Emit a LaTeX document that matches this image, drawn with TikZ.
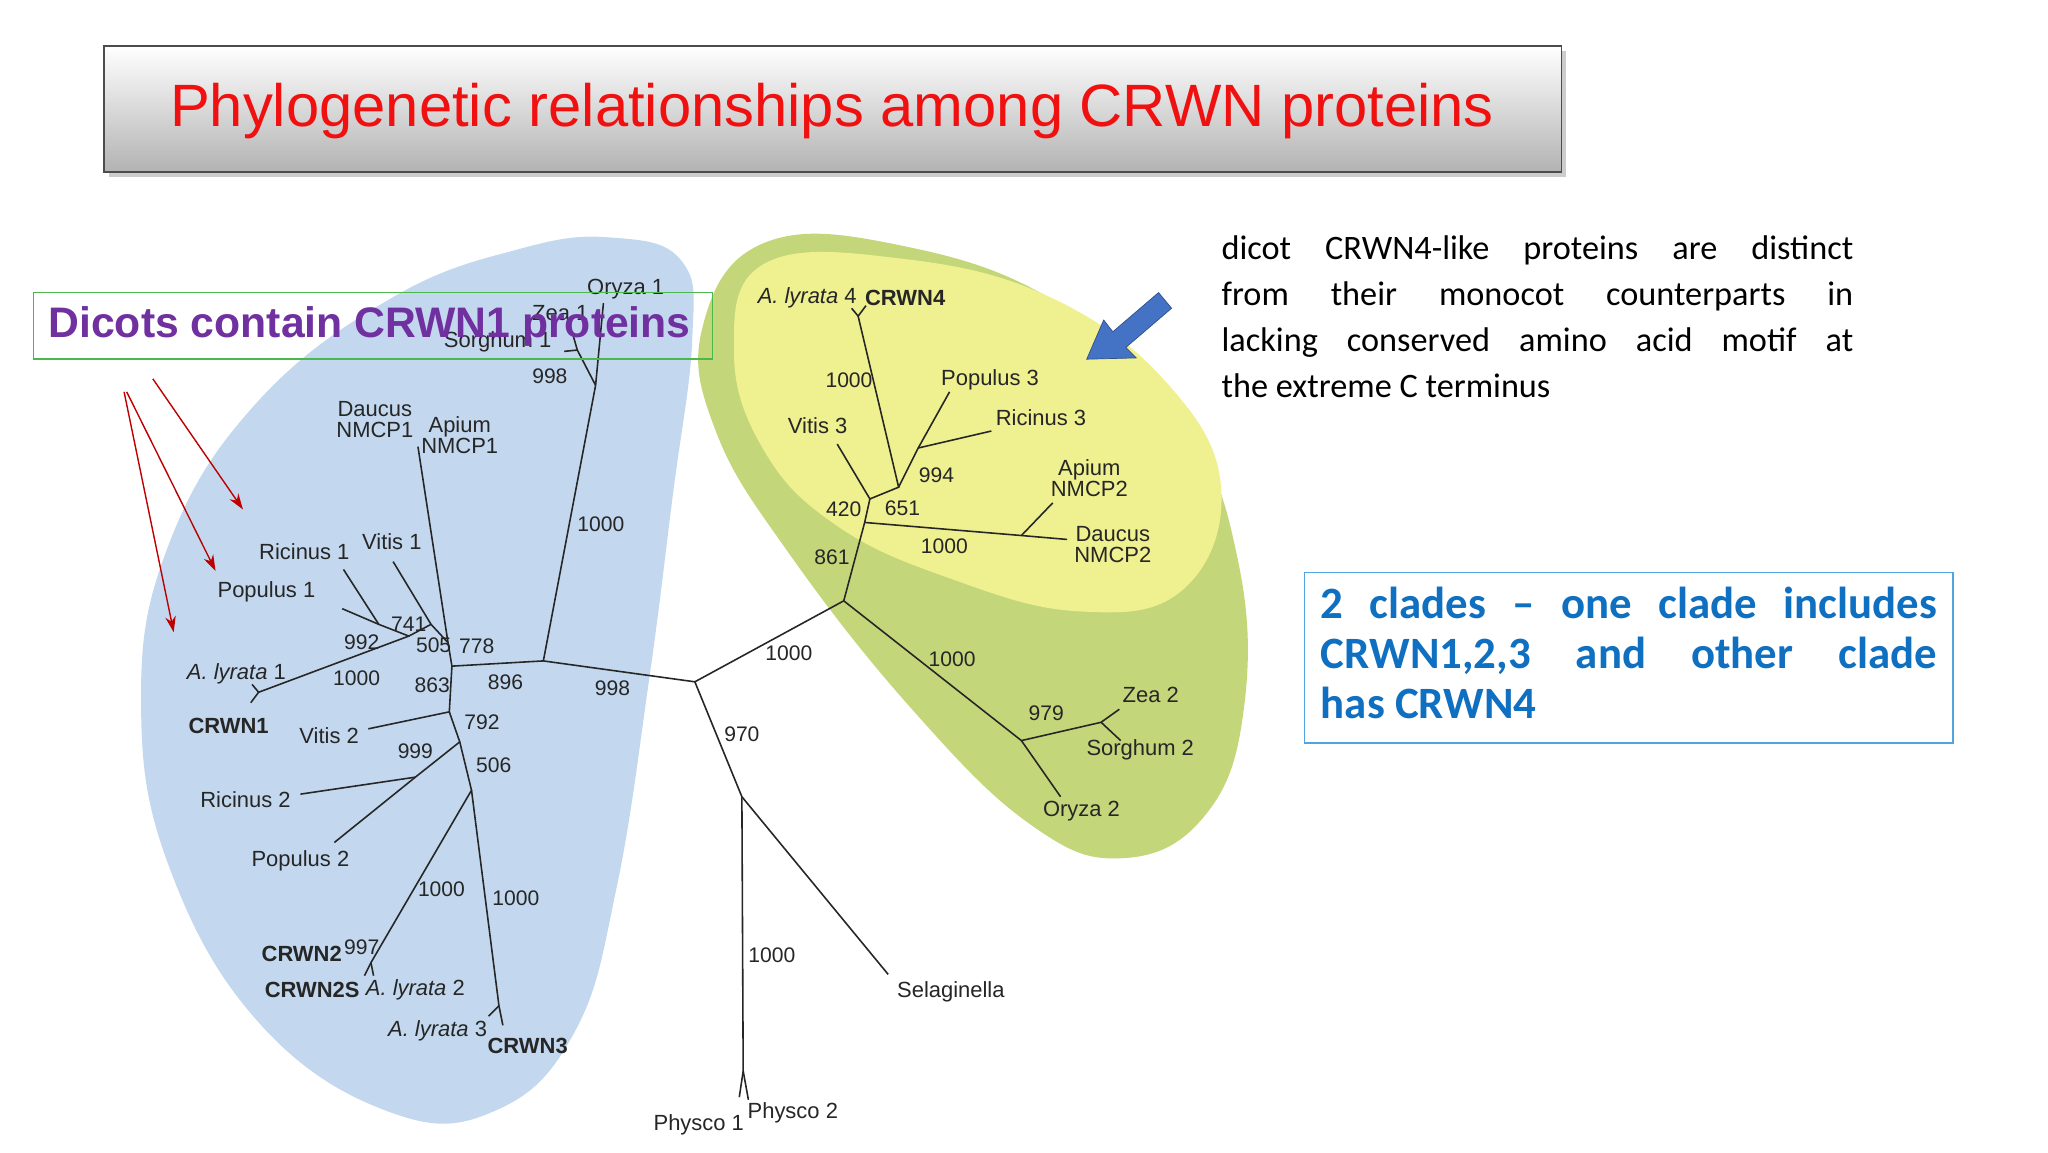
\documentclass[tikz,border=0pt]{standalone}
\usepackage{fontspec}
\setmainfont{Liberation Sans}
\newfontfamily\calfont{Carlito}
\usetikzlibrary{shadows,arrows.meta}
\definecolor{blob}{HTML}{C3D8EE}
\definecolor{grn}{HTML}{C3D77A}
\definecolor{yel}{HTML}{EFF08F}
\definecolor{ttl}{HTML}{F01010}
\definecolor{purp}{HTML}{7030A0}
\definecolor{cblue}{HTML}{0F6FC0}
\definecolor{arrb}{HTML}{4472C4}
\tikzset{
 br/.style={line width=0.9pt,black!85},
 lb/.style={font=\fontsize{12.5}{13}\selectfont,text=black!85,inner sep=0pt},
 bs/.style={font=\fontsize{12}{13}\selectfont,text=black!85,inner sep=0pt},
 bd/.style={lb,font=\fontsize{12.5}{13}\selectfont\bfseries},
 ra/.style={draw=red!75!black,line width=0.8pt,-{Stealth[length=9pt,width=6pt]}}
}
\begin{document}
\begin{tikzpicture}[x=0.026122cm,y=-0.026122cm]
\useasboundingbox (0,0) rectangle (1568,882);
\fill[white] (0,0) rectangle (1568,882);
% blobs
\fill[blob] plot[smooth cycle,tension=0.7] coordinates{(470,182)(522,200)(530,260)(515,380)(497,520)(472,680)(440,790)(380,850)(300,852)(200,785)(130,665)(108,540)(128,420)(195,310)(300,228)(400,190)};
\fill[grn] plot[smooth cycle,tension=0.7] coordinates{(585,186)(690,188)(810,232)(905,320)(948,430)(952,545)(922,625)(860,657)(790,632)(700,545)(605,425)(548,330)(538,250)};
\fill[yel] plot[smooth cycle,tension=0.7] coordinates{(585,202)(690,198)(805,228)(895,295)(935,375)(905,452)(825,468)(725,442)(640,402)(585,345)(562,270)};
% title
\node[draw=black!70,line width=1pt,top color=white,bottom color=black!30,drop shadow={opacity=0.4},minimum width=1119*0.7412pt,minimum height=97*0.7412pt,inner sep=0pt] (title) at (637.5,83.5) {};
\node[text=ttl,font=\fontsize{34}{36}\selectfont] (tt) at (637,85) {Phylogenetic relationships among CRWN proteins};
% tree coordinates
\coordinate (R) at (532,522); \coordinate (Q) at (416,506); \coordinate (P) at (456,295);
\coordinate (o1) at (462,232); \coordinate (zs) at (442,268); \coordinate (z1) at (438,254); \coordinate (s1) at (432,269);
\coordinate (B) at (346,510); \coordinate (C) at (343,492); \coordinate (dn) at (320,342);
\coordinate (D) at (330,478); \coordinate (v1) at (301,430);
\coordinate (F) at (313,487); \coordinate (E) at (290,478); \coordinate (r1) at (263,436); \coordinate (p1) at (262,466);
\coordinate (G) at (198,530); \coordinate (a1) at (193,524); \coordinate (c1) at (192,538);
\coordinate (H) at (344,545); \coordinate (v2) at (282,558);
\coordinate (I) at (352,568); \coordinate (K) at (318,595); \coordinate (r2) at (230,608); \coordinate (p2) at (256,645);
\coordinate (J) at (361,605); \coordinate (N2) at (284,737); \coordinate (c2) at (279,747); \coordinate (a2) at (286,747);
\coordinate (N3) at (382,770); \coordinate (a3) at (374,778); \coordinate (c3) at (385,785);
\coordinate (S) at (568,610); \coordinate (PH) at (569,820); \coordinate (ph1) at (566,840); \coordinate (ph2) at (573,842); \coordinate (sel) at (680,746);
\coordinate (T) at (646,460); \coordinate (U) at (662,400); \coordinate (V) at (666,382); \coordinate (v3) at (641,340);
\coordinate (W) at (688,373); \coordinate (c4n) at (657,242); \coordinate (a4) at (652,236); \coordinate (c4) at (663,234);
\coordinate (X) at (703,343); \coordinate (p3) at (727,300); \coordinate (r3) at (759,330);
\coordinate (Y) at (782,410); \coordinate (ap2) at (806,385); \coordinate (dc2) at (817,413);
\coordinate (Z) at (782,567); \coordinate (Z2) at (843,553); \coordinate (z2) at (857,543); \coordinate (s2) at (858,567); \coordinate (o2) at (812,610);
% branches
\draw[br] (R)--(Q)--(P)--(o1); \draw[br] (P)--(zs)--(z1); \draw[br] (zs)--(s1);
\draw[br] (Q)--(B)--(C)--(dn); \draw[br] (C)--(D)--(v1); \draw[br] (D)--(F)--(E)--(r1); \draw[br] (E)--(p1);
\draw[br] (F)--(G)--(a1); \draw[br] (G)--(c1);
\draw[br] (B)--(H)--(v2); \draw[br] (H)--(I)--(K)--(r2); \draw[br] (K)--(p2);
\draw[br] (I)--(J)--(N2)--(c2); \draw[br] (N2)--(a2);
\draw[br] (J)--(N3)--(a3); \draw[br] (N3)--(c3);
\draw[br] (R)--(S)--(PH)--(ph1); \draw[br] (PH)--(ph2); \draw[br] (S)--(sel);
\draw[br] (R)--(T)--(U)--(V)--(v3); \draw[br] (V)--(W)--(c4n)--(a4); \draw[br] (c4n)--(c4);
\draw[br] (W)--(X)--(p3); \draw[br] (X)--(r3);
\draw[br] (U)--(Y)--(dc2); \draw[br] (Y)--(ap2);
\draw[br] (T)--(Z)--(Z2)--(z2); \draw[br] (Z2)--(s2); \draw[br] (Z)--(o2);
% leaf labels
\node[lb] (l1) at (479,221) {Oryza 1};
\node[lb] (l2) at (429,240) {Zea 1};
\node[lb] (l3) at (381,262) {Sorghum 1};
\node[lb,align=center] (l4) at (287,321) {Daucus\\[-1pt]NMCP1};
\node[lb,align=center] (l5) at (352,333) {Apium\\[-1pt]NMCP1};
\node[lb] (l6) at (300,415) {Vitis 1};
\node[lb] (l7) at (233,422) {Ricinus 1};
\node[lb] (l8) at (204,453) {Populus 1};
\node[lb] (l9) at (181,516) {\itshape A. lyrata\upshape{} 1};
\node[bd] (l10) at (175,556) {CRWN1};
\node[lb] (l11) at (252,563) {Vitis 2};
\node[lb] (l12) at (188,612) {Ricinus 2};
\node[lb] (l13) at (230,659) {Populus 2};
\node[bd] (l14) at (231,730) {CRWN2};
\node[bd] (l15) at (239,758) {CRWN2S};
\node[lb] (l16) at (318,758) {\itshape A. lyrata\upshape{} 2};
\node[lb] (l17) at (335,789) {\itshape A. lyrata\upshape{} 3};
\node[bd] (l18) at (404,801) {CRWN3};
\node[lb] (l19) at (535,861) {Physco 1};
\node[lb] (l20) at (607,852) {Physco 2};
\node[lb] (l21) at (728,759) {Selaginella};
\node[lb] (l22) at (828,621) {Oryza 2};
\node[lb] (l23) at (873,574) {Sorghum 2};
\node[lb] (l24) at (881,532) {Zea 2};
\node[lb,align=center] (l25) at (852,417) {Daucus\\[-1pt]NMCP2};
\node[lb,align=center] (l26) at (834,366) {Apium\\[-1pt]NMCP2};
\node[lb] (l27) at (797,320) {Ricinus 3};
\node[lb] (l28) at (758,291) {Populus 3};
\node[lb] (l29) at (626,326) {Vitis 3};
\node[lb] (l30) at (618,228) {\itshape A. lyrata\upshape{} 4};
\node[bd] (l31) at (693,228) {CRWN4};
% bootstrap labels
\foreach \p/\t in {{421,288}/998,{460,401}/1000,{469,527}/998,{387,522}/896,{365,495}/778,{313,478}/741,{277,492}/992,{332,494}/505,{273,519}/1000,{331,525}/863,{369,553}/792,{318,575}/999,{378,586}/506,{338,681}/1000,{395,688}/1000,{277,725}/997,{568,562}/970,{591,731}/1000,{604,500}/1000,{637,427}/861,{646,390}/420,{691,389}/651,{717,364}/994,{650,291}/1000,{723,418}/1000,{729,505}/1000,{801,546}/979}
 \node[bs] at (\p) {\t};
% dicots box
\node[draw=green!60!black!70,line width=0.8pt,minimum width=521*0.7412pt,minimum height=51*0.7412pt] (dbox) at (285.5,249.5) {};
\node[text=purp,font=\fontsize{24.3}{26}\selectfont\bfseries] (dtext) at (283,250) {Dicots contain CRWN1 proteins};
\coordinate (rs1) at (95,300); \coordinate (rs2) at (97,300); \coordinate (rs3) at (117,290);
\coordinate (re1) at (133,484); \coordinate (re2) at (165,437); \coordinate (re3) at (186,390);
\draw[ra] (rs1)--(re1); \draw[ra] (rs2)--(re2); \draw[ra] (rs3)--(re3);
% right text
\node[anchor=north west,inner sep=0pt,text width=485*0.7412pt,align=justify,font=\calfont\fontsize{19.5}{26.2}\selectfont] (rt) at (935,180) {dicot CRWN4-like proteins are distinct\linebreak from their monocot counterparts in\linebreak lacking conserved amino acid motif at\linebreak the extreme C terminus};
% blue arrow
\fill[arrb,draw=arrb!70!black] (832,275) -- (845,245) -- (852,254) -- (887,224) -- (897,236) -- (862,266) -- (870,274) -- cycle;
% clade box
\node[draw=cyan!70!blue!70,line width=0.8pt,minimum width=498*0.7412pt,minimum height=131*0.7412pt] (cbox) at (1247,503.5) {};
\node[text=cblue,anchor=north west,inner sep=0pt,text width=473*0.7412pt,align=justify,font=\calfont\bfseries\fontsize{25.5}{28.6}\selectfont] (ct) at (1011,449) {2 clades – one clade includes\linebreak CRWN1,2,3 and other clade\linebreak has CRWN4};
\end{tikzpicture}
\end{document}
